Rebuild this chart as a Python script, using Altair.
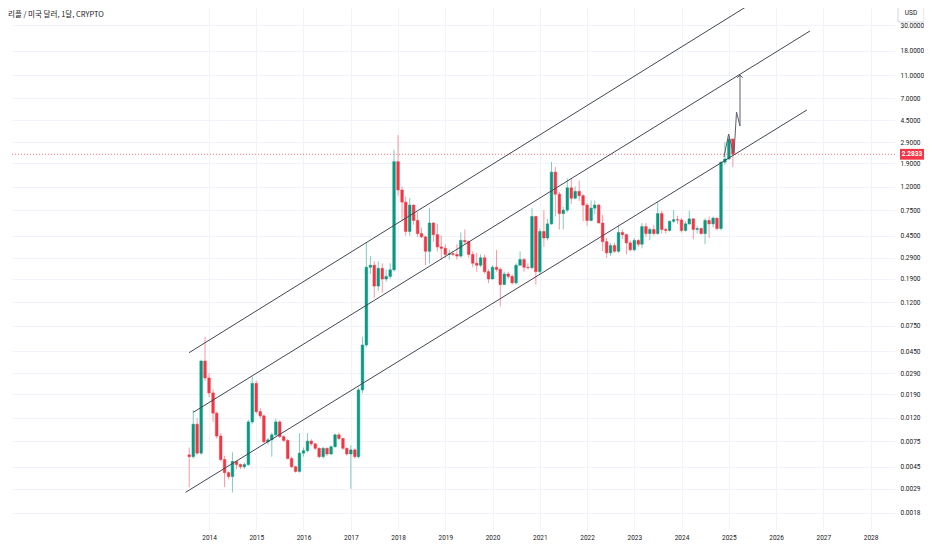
import altair as alt
import pandas as pd

# ---------------- data (monthly XRP/USD candles, Aug 2013 - Feb 2025) ----------------
first_open = 0.0057
close_2013 = [0.0055, 0.0105, 0.0059, 0.0370, 0.0264]
close_2014 = [0.0196, 0.0131, 0.0083, 0.0052, 0.0040, 0.0037, 0.0050, 0.0047, 0.0045, 0.0047, 0.0110, 0.0237]
close_2015 = [0.0135, 0.0124, 0.0074, 0.0077, 0.0085, 0.0110, 0.0082, 0.0076, 0.0053, 0.0045, 0.0041, 0.0059]
close_2016 = [0.0062, 0.0075, 0.0071, 0.0065, 0.0055, 0.0065, 0.0058, 0.0067, 0.0085, 0.0079, 0.0065, 0.0058]
close_2017 = [0.0063, 0.0055, 0.0208, 0.051, 0.24, 0.25, 0.165, 0.235, 0.19, 0.20, 0.228, 1.97]
close_2018 = [1.12, 0.88, 0.49, 0.83, 0.61, 0.47, 0.44, 0.33, 0.58, 0.46, 0.36, 0.35]
close_2019 = [0.31, 0.315, 0.31, 0.30, 0.41, 0.40, 0.31, 0.26, 0.25, 0.29, 0.22, 0.19]
close_2020 = [0.24, 0.23, 0.17, 0.21, 0.20, 0.176, 0.25, 0.28, 0.24, 0.238, 0.66, 0.22]
close_2021 = [0.49, 0.43, 0.57, 1.60, 1.03, 0.70, 0.75, 1.17, 0.95, 1.09, 1.00, 0.83]
close_2022 = [0.61, 0.78, 0.83, 0.58, 0.40, 0.32, 0.37, 0.33, 0.48, 0.46, 0.39, 0.34]
close_2023 = [0.41, 0.38, 0.54, 0.47, 0.51, 0.47, 0.70, 0.51, 0.50, 0.60, 0.62, 0.615]
close_2024 = [0.50, 0.57, 0.63, 0.51, 0.52, 0.47, 0.61, 0.57, 0.64, 0.52, 1.95, 2.08]
close_2025 = [3.10, 2.2833]

high_2013 = [0.0066, 0.0139, 0.0119, 0.0380, 0.0600]
high_2014 = [0.0290, 0.0210, 0.0135, 0.0088, 0.0056, 0.0041, 0.0060, 0.0050, 0.0048, 0.0049, 0.0115, 0.0272]
high_2015 = [0.0250, 0.0145, 0.0128, 0.0080, 0.0089, 0.0117, 0.0113, 0.0084, 0.0078, 0.0055, 0.0046, 0.0088]
high_2016 = [0.0066, 0.0088, 0.0078, 0.0072, 0.0066, 0.0067, 0.0066, 0.0069, 0.0087, 0.0089, 0.0079, 0.0066]
high_2017 = [0.0069, 0.0065, 0.0218, 0.060, 0.39, 0.30, 0.27, 0.27, 0.26, 0.23, 0.26, 2.50]
high_2018 = [3.35, 1.20, 0.98, 0.96, 0.84, 0.72, 0.53, 0.45, 0.78, 0.59, 0.57, 0.45]
high_2019 = [0.38, 0.34, 0.33, 0.38, 0.48, 0.51, 0.41, 0.33, 0.32, 0.31, 0.31, 0.23]
high_2020 = [0.25, 0.34, 0.24, 0.22, 0.22, 0.21, 0.26, 0.33, 0.29, 0.26, 0.78, 0.67]
high_2021 = [0.52, 0.75, 0.63, 1.96, 1.77, 1.08, 0.80, 1.41, 1.41, 1.20, 1.35, 1.03]
high_2022 = [0.86, 0.91, 0.91, 0.85, 0.68, 0.43, 0.39, 0.39, 0.56, 0.51, 0.47, 0.41]
high_2023 = [0.43, 0.42, 0.58, 0.58, 0.53, 0.56, 0.88, 0.74, 0.53, 0.61, 0.75, 0.67]
high_2024 = [0.64, 0.60, 0.74, 0.64, 0.55, 0.53, 0.64, 0.66, 0.66, 0.64, 1.98, 2.90]
high_2025 = [3.40, 3.10]

low_2013 = [0.0030, 0.0053, 0.0057, 0.0057, 0.0250]
low_2014 = [0.0180, 0.0110, 0.0079, 0.0050, 0.0030, 0.0035, 0.0027, 0.0043, 0.0043, 0.0043, 0.0046, 0.0105]
low_2015 = [0.0130, 0.0118, 0.0072, 0.0070, 0.0055, 0.0083, 0.0080, 0.0074, 0.0052, 0.0044, 0.0040, 0.0040]
low_2016 = [0.0055, 0.0060, 0.0068, 0.0063, 0.0053, 0.0053, 0.0056, 0.0057, 0.0066, 0.0077, 0.0063, 0.0056]
low_2017 = [0.0029, 0.0053, 0.0053, 0.0195, 0.049, 0.21, 0.13, 0.15, 0.145, 0.18, 0.19, 0.22]
low_2018 = [1.00, 0.60, 0.45, 0.45, 0.56, 0.44, 0.43, 0.25, 0.26, 0.40, 0.33, 0.28]
low_2019 = [0.29, 0.28, 0.30, 0.28, 0.29, 0.38, 0.29, 0.24, 0.22, 0.24, 0.21, 0.175]
low_2020 = [0.19, 0.22, 0.11, 0.17, 0.19, 0.17, 0.17, 0.25, 0.22, 0.23, 0.23, 0.17]
low_2021 = [0.21, 0.36, 0.41, 0.56, 0.66, 0.51, 0.51, 0.72, 0.85, 0.93, 0.90, 0.60]
low_2022 = [0.55, 0.60, 0.69, 0.58, 0.33, 0.29, 0.30, 0.32, 0.32, 0.42, 0.31, 0.33]
low_2023 = [0.33, 0.36, 0.35, 0.44, 0.41, 0.45, 0.46, 0.47, 0.47, 0.49, 0.58, 0.57]
low_2024 = [0.48, 0.49, 0.56, 0.42, 0.47, 0.46, 0.38, 0.43, 0.53, 0.50, 0.50, 1.85]
low_2025 = [2.05, 1.77]

# channel lines drawn on the chart (date, price endpoints)
chan_id = ["top", "top", "mid", "mid", "bot", "bot"]
chan_date = ["2013-07-30", "2025-08-07", "2013-09-01", "2026-09-20", "2013-07-04", "2026-08-27"]
chan_price = [0.0437, 49.5, 0.01332, 26.67, 0.002703, 5.52]

# projection drawings
path_id = ["n", "n", "n", "a", "a", "a", "a"]
path_date = ["2024-11-24", "2024-12-30", "2025-02-02", "2025-02-10", "2025-03-01", "2025-03-28", "2025-03-28"]
path_price = [2.163, 3.42, 2.39, 2.34, 5.30, 4.01, 11.09]
arrow_date = ["2025-03-28"]
arrow_price = [11.09]

current_price = 2.2833
y_ticks = [30, 18, 11, 7, 4.5, 2.9, 1.9, 1.2, 0.75, 0.45, 0.29, 0.19, 0.12, 0.075,
           0.045, 0.029, 0.019, 0.012, 0.0075, 0.0045, 0.0029, 0.0018]
years = list(range(2014, 2029))
title_text = "리플 / 미국 달러, 1달, CRYPTO"

# ---------------- tables ----------------
close = (close_2013 + close_2014 + close_2015 + close_2016 + close_2017 + close_2018 +
         close_2019 + close_2020 + close_2021 + close_2022 + close_2023 + close_2024 + close_2025)
high = (high_2013 + high_2014 + high_2015 + high_2016 + high_2017 + high_2018 +
        high_2019 + high_2020 + high_2021 + high_2022 + high_2023 + high_2024 + high_2025)
low = (low_2013 + low_2014 + low_2015 + low_2016 + low_2017 + low_2018 +
       low_2019 + low_2020 + low_2021 + low_2022 + low_2023 + low_2024 + low_2025)
open_ = [first_open] + close[:-1]
dates = pd.date_range("2013-08-01", periods=len(close), freq="MS").strftime("%Y-%m-%d")
df = pd.DataFrame({"date": dates, "open": open_, "high": high, "low": low, "close": close})
df["dir"] = ["up" if c >= o else "down" for o, c in zip(df["open"], df["close"])]

chan_df = pd.DataFrame({"line": chan_id, "date": chan_date, "price": chan_price})
path_df = pd.DataFrame({"path": path_id, "date": path_date, "price": path_price,
                        "i": list(range(len(path_id)))})
arrow_df = pd.DataFrame({"date": arrow_date, "price": arrow_price})
price_df = pd.DataFrame({"price": [current_price], "label": [f"{current_price:.4f}"]})

# ---------------- scales / axes ----------------
FONT = "Roboto"
TXT = "#131722"
GRID = "#f0f3fa"
xscale = alt.Scale(domain=[alt.DateTime(year=2009, month=10, date=31, utc=True),
                           alt.DateTime(year=2028, month=7, date=8, utc=True)],
                   nice=False, padding=0)
yscale = alt.Scale(type="log", domain=[0.001275, 42.17], nice=False, padding=0)
cscale = alt.Scale(domain=["up", "down"], range=["#089981", "#F23645"])

xaxis = alt.Axis(values=[alt.DateTime(year=y, month=1, date=1, utc=True) for y in years],
                 labelExpr="utcFormat(datum.value, '%Y')", title=None, grid=True,
                 gridColor=GRID, domain=False, ticks=False, labelPadding=4,
                 labelFont=FONT, labelFontSize=6.5, labelColor=TXT, labelFlush=False,
                 labelOverlap=False)
yaxis = alt.Axis(values=y_ticks, format=".4f", orient="right", title=None, grid=True,
                 gridColor=GRID, domain=False, ticks=False, labelPadding=5,
                 labelFont=FONT, labelFontSize=6.5, labelColor=TXT, labelFlush=False,
                 labelOverlap=False, labelBaseline="middle")


def X():
    return alt.X("date:T", scale=xscale, axis=xaxis)


def Y(field):
    return alt.Y(field, scale=yscale, axis=yaxis)


price_rule = alt.Chart(price_df).mark_rule(color="#F23645", strokeDash=[1, 2],
                                           strokeWidth=1, opacity=0.7).encode(
    y=Y("price:Q"))

wicks = alt.Chart(df).mark_rule(strokeWidth=1, opacity=0.5).encode(
    x=X(), y=Y("low:Q"), y2="high:Q",
    color=alt.Color("dir:N", scale=cscale, legend=None))

bodies = alt.Chart(df).mark_bar(size=2.6, strokeWidth=0.5).encode(
    x=X(), y=Y("open:Q"), y2="close:Q",
    color=alt.Color("dir:N", scale=cscale, legend=None),
    stroke=alt.Stroke("dir:N", scale=cscale, legend=None))

channels = alt.Chart(chan_df).mark_line(color="#434651", strokeWidth=1).encode(
    x=X(), y=Y("price:Q"), detail="line:N")

paths = alt.Chart(path_df).mark_line(color="#5d606b", strokeWidth=1).encode(
    x=X(), y=Y("price:Q"), detail="path:N", order="i:Q")

arrow = alt.Chart(arrow_df).mark_point(shape="M-1,1L0,0L1,1", size=30, filled=False,
                                       stroke="#5d606b", strokeWidth=1, opacity=1).encode(
    x=X(), y=Y("price:Q"))

TAG = "M-1,-0.45L1,-0.45L1,0.45L-1,0.45Z"
tag_box = alt.Chart(price_df).mark_point(shape=TAG, size=576, filled=True, color="#F23645",
                                         opacity=1).encode(
    x=alt.value(900), y=Y("price:Q"))
tag_text = alt.Chart(price_df).mark_text(color="white", fontSize=6.5, font=FONT,
                                         fontWeight="bold").encode(
    x=alt.value(900), y=Y("price:Q"), text="label:N")

usd_df = pd.DataFrame({"t": ["USD"]})
usd_box = alt.Chart(usd_df).mark_point(shape="M-1,-0.73L1,-0.73L1,0.73L-1,0.73Z", size=676,
                                       filled=True, fill="white", stroke="#d1d4dc",
                                       strokeWidth=1, opacity=1).encode(
    x=alt.value(899), y=alt.value(4.5))
usd_text = alt.Chart(usd_df).mark_text(color=TXT, fontSize=6.5, font=FONT).encode(
    x=alt.value(899), y=alt.value(5), text="t:N")

title = alt.Chart(pd.DataFrame({"t": [title_text]})).mark_text(
    align="left", baseline="middle", fontSize=7.5, font="Noto Sans CJK KR", color=TXT).encode(
    x=alt.value(-4), y=alt.value(6.5), text="t:N")

chart = alt.layer(price_rule, wicks, bodies, channels, paths, arrow,
                  tag_box, tag_text, usd_box, usd_text, title).properties(
    width=883, height=522,
    padding={"left": 4, "top": 0, "right": 29, "bottom": 12},
    autosize=alt.AutoSizeParams(type="none"),
    background="white",
).configure_view(stroke=None)

chart.save("out.html", embed_options={"renderer": "svg", "actions": False})
